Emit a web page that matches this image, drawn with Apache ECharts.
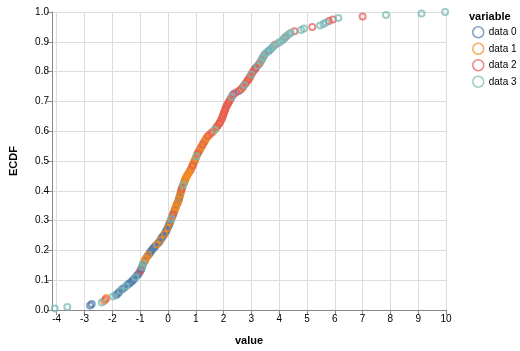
<!DOCTYPE html>
<html><head><meta charset="utf-8">
<script src="https://cdn.jsdelivr.net/npm/echarts@6/dist/echarts.min.js"></script>
<style>html,body{margin:0;padding:0;background:#fff}#c{width:520px;height:351px}</style>
</head><body><div id="c"></div>
<script>
const seriesNames = ['data 0', 'data 1', 'data 2', 'data 3'];
const xTicks = [-4, -3, -2, -1, 0, 1, 2, 3, 4, 5, 6, 7, 8, 9, 10];
const data0 = [[-2.80,.015],[-2.74,.020],[-1.86,.050],[-1.80,.055],[-1.76,.060],[-1.65,.070],[-1.57,.075],[-1.45,.085],[-1.38,.090],[-1.31,.095],[-1.26,.100],[-1.21,.105],[-1.12,.115],[-1.07,.120],[-1.03,.125],[-0.97,.135],[-0.95,.140],[-0.91,.150],[-0.83,.165],[-0.74,.180],[-0.66,.190],[-0.63,.195],[-0.59,.200],[-0.55,.205],[-0.50,.210],[-0.45,.215],[-0.35,.225],[-0.30,.230],[-0.24,.240],[-0.20,.245],[-0.16,.250],[-0.09,.260],[-0.06,.265],[-0.04,.270],[0.01,.280],[0.04,.285],[0.06,.290],[0.10,.300],[0.14,.310],[0.20,.325],[0.24,.335],[0.32,.355],[0.37,.365],[0.40,.375],[0.42,.380],[0.46,.395],[0.51,.410],[0.59,.430],[0.81,.470],[0.96,.500],[1.13,.535],[1.31,.565],[2.36,.725],[2.55,.735],[3.14,.810],[3.63,.870]];
const data1 = [[-2.30,.030],[-2.21,.040],[-0.86,.160],[-0.81,.170],[-0.78,.175],[-0.70,.185],[-0.40,.220],[-0.27,.235],[-0.12,.255],[-0.01,.275],[0.08,.295],[0.16,.315],[0.22,.330],[0.26,.340],[0.28,.345],[0.30,.350],[0.35,.360],[0.39,.370],[0.43,.385],[0.45,.390],[0.48,.400],[0.53,.415],[0.57,.425],[0.61,.435],[0.63,.440],[0.65,.445],[0.68,.450],[0.71,.455],[0.75,.460],[0.78,.465],[0.84,.475],[0.86,.480],[0.91,.490],[0.93,.495],[0.98,.505],[1.00,.510],[1.04,.520],[1.10,.530],[1.16,.540],[1.19,.545],[1.22,.550],[1.28,.560],[1.34,.570],[1.37,.575],[1.40,.580],[1.51,.590],[1.63,.600],[1.72,.610],[1.80,.620],[1.90,.635],[1.95,.645],[1.99,.655],[2.03,.665],[2.09,.680],[2.14,.690],[2.23,.705],[2.67,.745],[2.83,.765],[2.94,.780],[3.06,.800],[3.31,.830]];
const data2 = [[-2.25,.035],[-1.00,.130],[0.18,.320],[0.49,.405],[0.89,.485],[1.07,.525],[1.25,.555],[1.45,.585],[1.57,.595],[1.76,.615],[1.84,.625],[1.87,.630],[1.93,.640],[1.97,.650],[2.01,.660],[2.05,.670],[2.07,.675],[2.11,.685],[2.17,.695],[2.20,.700],[2.26,.710],[2.32,.720],[2.45,.730],[2.62,.740],[2.71,.750],[2.79,.760],[2.87,.770],[2.91,.775],[2.97,.785],[3.03,.795],[3.10,.805],[3.18,.815],[3.27,.825],[3.37,.840],[3.46,.855],[3.85,.890],[4.22,.915],[4.55,.935],[5.19,.950],[5.79,.970],[5.93,.975],[7.00,.985]];
const data3 = [[-4.07,.005],[-3.62,.010],[-2.38,.025],[-1.97,.045],[-1.71,.065],[-1.51,.080],[-1.17,.110],[-0.93,.145],[-0.89,.155],[0.12,.305],[0.55,.420],[1.02,.515],[1.68,.605],[2.29,.715],[2.75,.755],[3.00,.790],[3.22,.820],[3.34,.835],[3.40,.845],[3.43,.850],[3.50,.860],[3.56,.865],[3.70,.875],[3.74,.880],[3.79,.885],[3.95,.895],[4.04,.900],[4.12,.905],[4.17,.910],[4.28,.920],[4.35,.925],[4.42,.930],[4.79,.940],[4.89,.945],[5.47,.955],[5.59,.960],[5.68,.965],[6.13,.980],[7.84,.990],[9.12,.995],[9.97,1.000]];

const allData = [data0, data1, data2, data3];
const colors = ['#4c78a8', '#f58518', '#e45756', '#72b7b2'];
const FONT = 'Liberation Sans, Arial, Helvetica, sans-serif';

const chart = echarts.init(document.getElementById('c'), null, {renderer: 'canvas'});
chart.setOption({
  animation: false,
  textStyle: {fontFamily: FONT},
  title: {
    text: 'variable', left: 464, top: 6,
    textStyle: {fontFamily: FONT, fontSize: 11, fontWeight: 'bold', color: '#000'}
  },
  legend: {
    orient: 'vertical', left: 467, top: 21,
    itemWidth: 11, itemHeight: 11, itemGap: 4,
    icon: 'circle',
    data: seriesNames,
    textStyle: {fontFamily: FONT, fontSize: 10, color: '#000'},
    itemStyle: {color: 'rgba(255,255,255,0)', borderWidth: 1.5}
  },
  grid: {left: 52, right: 74, top: 12, bottom: 40, containLabel: false},
  xAxis: {
    type: 'value', min: -4.17, max: 10,
    name: 'value', nameLocation: 'middle', nameGap: 25,
    nameTextStyle: {fontFamily: FONT, fontSize: 11, fontWeight: 'bold', color: '#000'},
    axisLine: {show: true, onZero: false, lineStyle: {color: '#888'}},
    axisTick: {show: true, length: 5, lineStyle: {color: '#888'}, customValues: xTicks},
    axisLabel: {fontFamily: FONT, fontSize: 10, color: '#000', margin: 4, customValues: xTicks},
    splitLine: {show: true, lineStyle: {color: '#ddd'}}
  },
  yAxis: {
    type: 'value', min: 0, max: 1, interval: 0.1,
    name: 'ECDF', nameLocation: 'middle', nameGap: 33, nameRotate: 90,
    nameTextStyle: {fontFamily: FONT, fontSize: 11, fontWeight: 'bold', color: '#000'},
    axisLine: {show: true, onZero: false, lineStyle: {color: '#888'}},
    axisTick: {show: true, length: 5, lineStyle: {color: '#888'}},
    axisLabel: {fontFamily: FONT, fontSize: 10, color: '#000', margin: 3,
      formatter: v => v.toFixed(1)},
    splitLine: {show: true, lineStyle: {color: '#ddd'}}
  },
  series: allData.map((d, i) => ({
    name: seriesNames[i], type: 'scatter', data: d,
    symbol: 'circle', symbolSize: 6,
    itemStyle: {color: 'rgba(255,255,255,0)', borderColor: colors[i], borderWidth: 2, opacity: 0.7},
    emphasis: {disabled: true}
  }))
});
</script>
</body></html>
